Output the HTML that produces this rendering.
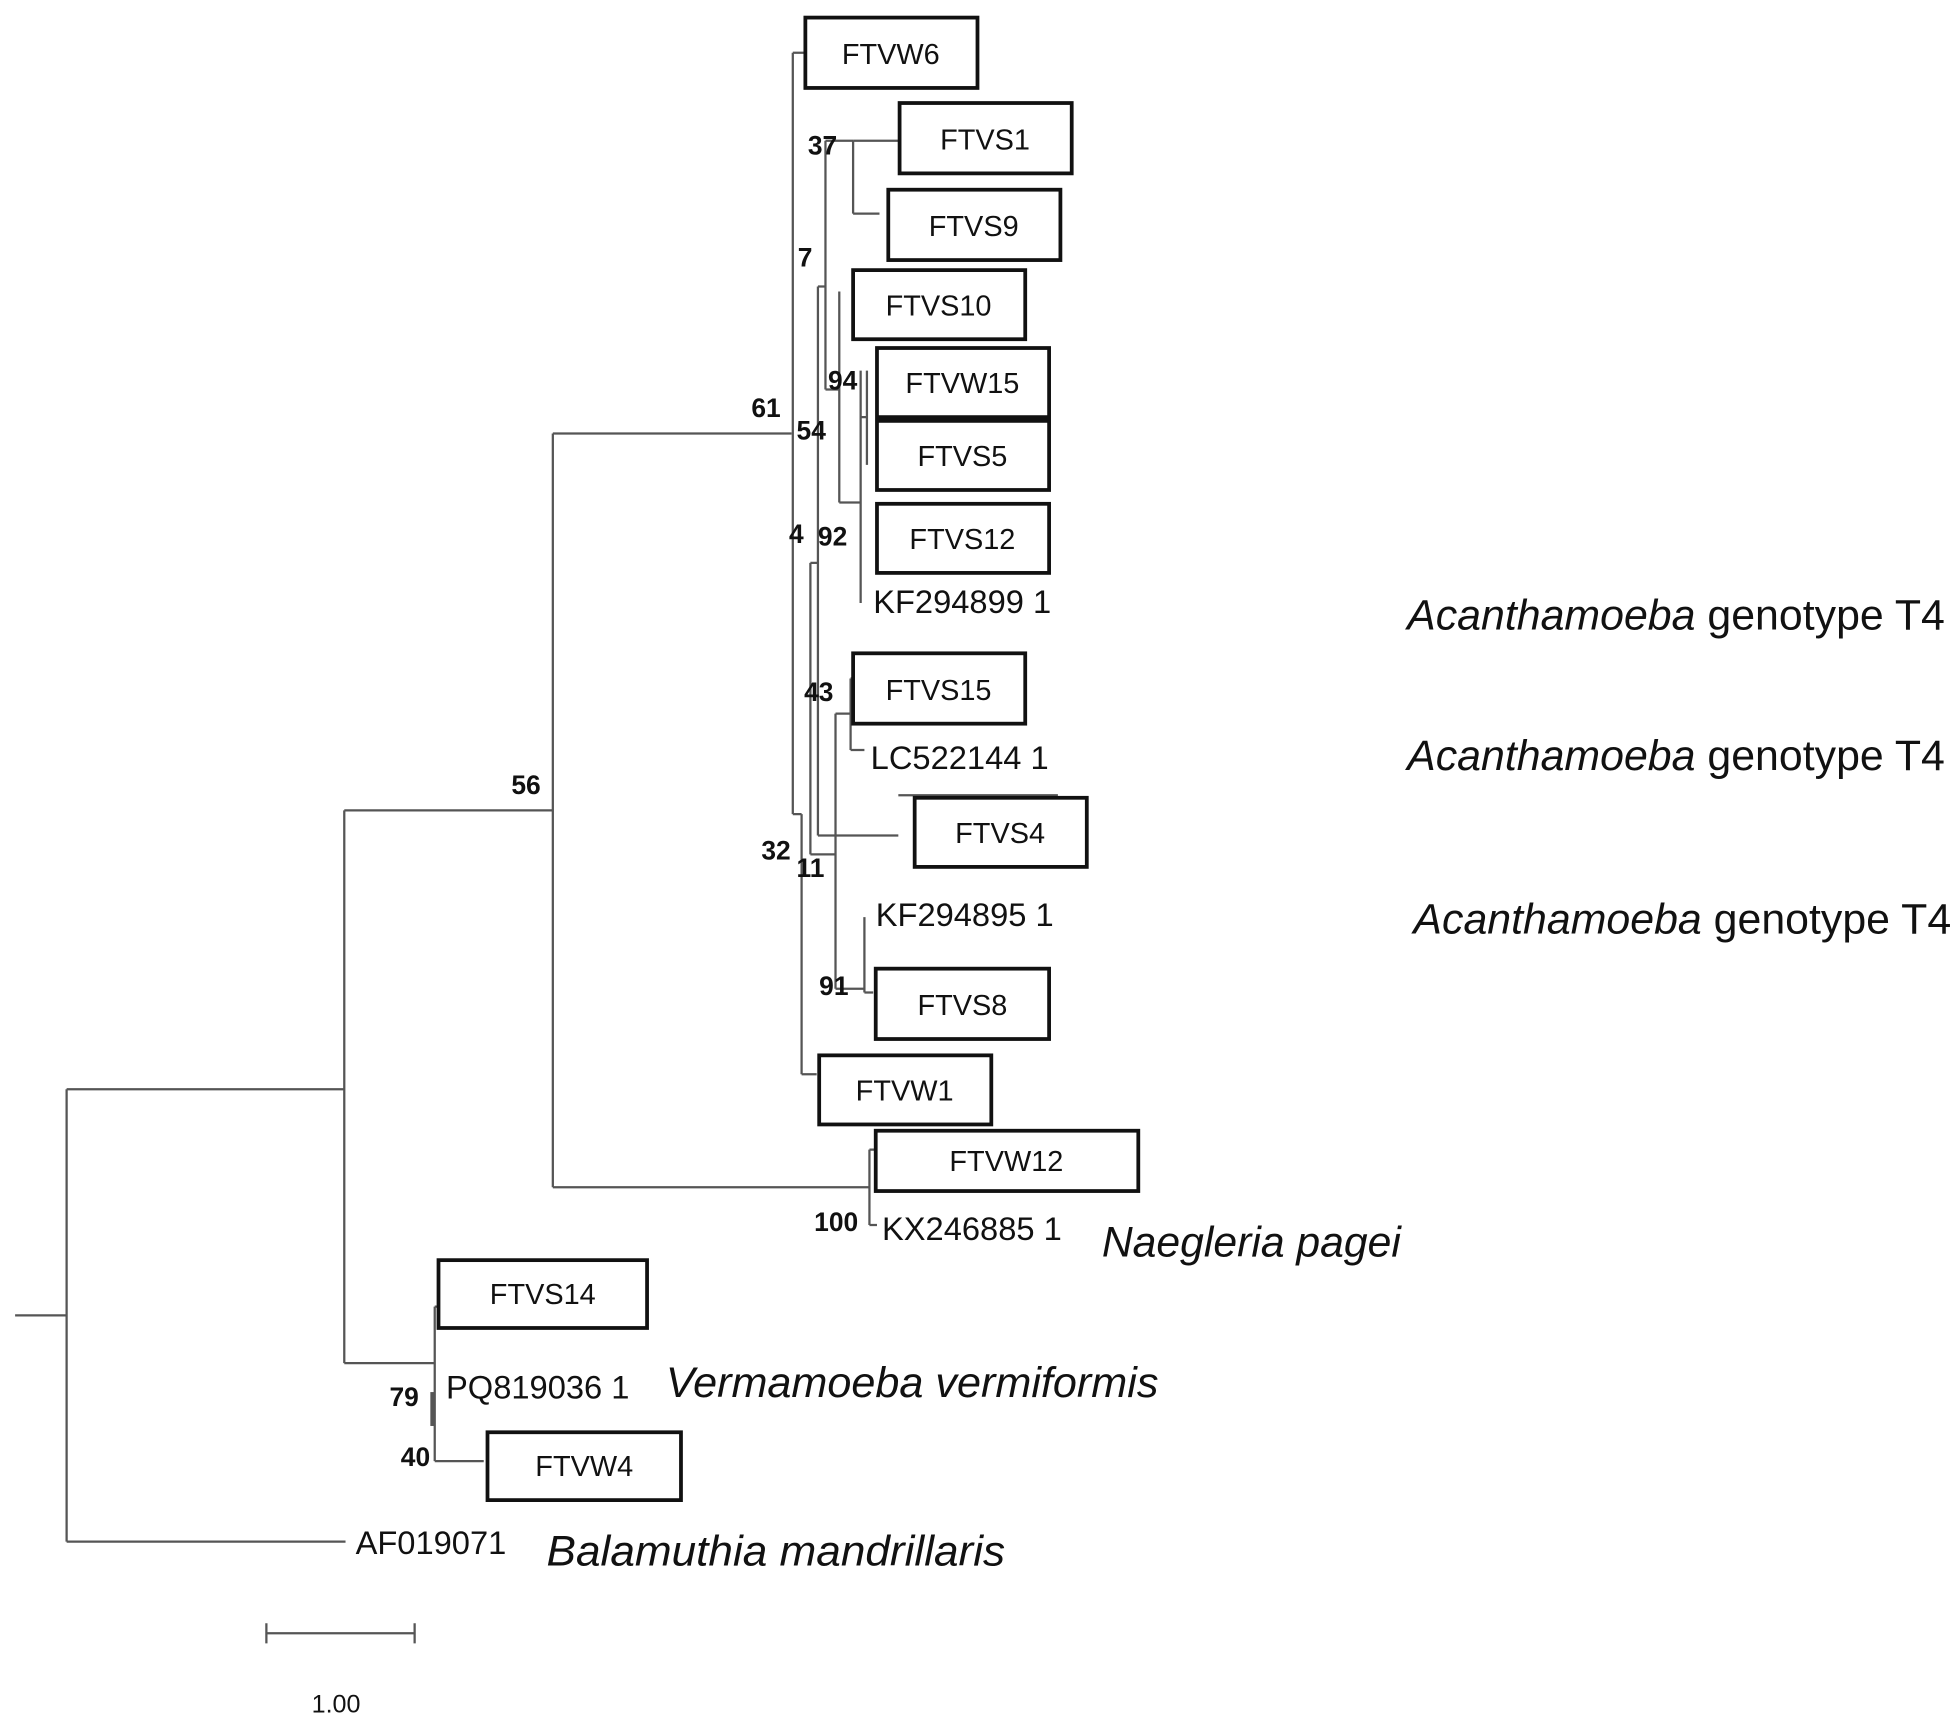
<!DOCTYPE html>
<html><head><meta charset="utf-8"><style>
html,body{margin:0;padding:0;background:#fff;}
svg{display:block;}
.b{font-family:"Liberation Sans",sans-serif;font-weight:bold;font-size:21px;fill:#111;}
.t{font-family:"Liberation Sans",sans-serif;font-size:26px;fill:#111;}
.bx{font-family:"Liberation Sans",sans-serif;font-size:23px;fill:#111;}
.i{font-family:"Liberation Sans",sans-serif;font-size:34px;fill:#111;}
.l{stroke:#555;stroke-width:1.8;fill:none;}
.r{stroke:#111;stroke-width:3;fill:#fff;}
</style></head><body>
<svg width="1960" height="1725" viewBox="0 0 1560 1373" xmlns="http://www.w3.org/2000/svg">
<g class="l">
<path d="M12 1047H53M53 867V1227M53 867H274M53 1227H275"/>
<path d="M274 645V1085M274 645H440M274 1085H346"/>
<path d="M346 1040V1163M346 1163H385M346 1040H349"/>
<path d="M344 1108V1135" style="stroke-width:3"/>
<path d="M440 345V945M440 345H630M440 945H692"/>
<path d="M692 915V975M692 915H697M692 975H698"/>
<path d="M631 42V648M631 42H641M631 648H638"/>
<path d="M638 648V855M638 855H650"/>
<path d="M645 448V680M645 680H665"/>
<path d="M651 228V665M651 228H657M651 665H715M645 448H651"/>
<path d="M657 112V310M657 112H679M657 310H668"/>
<path d="M679 112V170M679 112H715M679 170H700"/>
<path d="M668 232V400M668 400H685"/>
<path d="M685 295V480M690 295V370M685 332H690"/>
<path d="M665 568V787M665 568H677"/>
<path d="M677 540V597M677 597H688M677 540H679"/>
<path d="M665 787H688M688 730V790M688 790H695"/>
<path d="M715 633H842"/>
<path d="M212 1300H330M212 1292V1308M330 1292V1308"/>
</g>
<g class="r">
<rect x="641" y="14" width="137" height="56"/>
<rect x="716" y="82" width="137" height="56"/>
<rect x="707" y="151" width="137" height="56"/>
<rect x="679" y="215" width="137" height="55"/>
<rect x="698" y="277" width="137" height="55"/>
<rect x="698" y="335" width="137" height="55"/>
<rect x="698" y="401" width="137" height="55"/>
<rect x="679" y="520" width="137" height="56"/>
<rect x="728" y="635" width="137" height="55"/>
<rect x="697" y="771" width="138" height="56"/>
<rect x="652" y="840" width="137" height="55"/>
<rect x="697" y="900" width="209" height="48"/>
<rect x="349" y="1003" width="166" height="54"/>
<rect x="388" y="1140" width="154" height="54"/>
</g>
<g class="bx" text-anchor="middle">
<text x="709" y="51">FTVW6</text>
<text x="784" y="119">FTVS1</text>
<text x="775" y="188">FTVS9</text>
<text x="747" y="251">FTVS10</text>
<text x="766" y="313">FTVW15</text>
<text x="766" y="371">FTVS5</text>
<text x="766" y="437">FTVS12</text>
<text x="747" y="557">FTVS15</text>
<text x="796" y="671">FTVS4</text>
<text x="766" y="808">FTVS8</text>
<text x="720" y="876">FTVW1</text>
<text x="801" y="932">FTVW12</text>
<text x="432" y="1038">FTVS14</text>
<text x="465" y="1175">FTVW4</text>
</g>
<g class="t">
<text x="695" y="488">KF294899 1</text>
<text x="693" y="612">LC522144 1</text>
<text x="697" y="737">KF294895 1</text>
<text x="702" y="987">KX246885 1</text>
<text x="355" y="1113">PQ819036 1</text>
<text x="283" y="1237">AF019071</text>
</g>
<g class="b">
<text x="643" y="123">37</text><text x="635" y="212">7</text><text x="659" y="310">94</text>
<text x="598" y="332">61</text><text x="634" y="350">54</text><text x="628" y="432">4</text>
<text x="651" y="434">92</text><text x="640" y="558">43</text><text x="606" y="684">32</text>
<text x="634" y="698">11</text><text x="652" y="792">91</text><text x="407" y="632">56</text>
<text x="648" y="980">100</text><text x="310" y="1119">79</text><text x="319" y="1167">40</text>
</g>
<g class="i">
<text x="1120" y="501" textLength="428" lengthAdjust="spacingAndGlyphs"><tspan font-style="italic">Acanthamoeba</tspan> genotype T4</text>
<text x="1120" y="613" textLength="428" lengthAdjust="spacingAndGlyphs"><tspan font-style="italic">Acanthamoeba</tspan> genotype T4</text>
<text x="1125" y="743" textLength="428" lengthAdjust="spacingAndGlyphs"><tspan font-style="italic">Acanthamoeba</tspan> genotype T4</text>
<text x="877" y="1000" font-style="italic" textLength="238" lengthAdjust="spacingAndGlyphs">Naegleria pagei</text>
<text x="530" y="1112" font-style="italic" textLength="392" lengthAdjust="spacingAndGlyphs">Vermamoeba vermiformis</text>
<text x="435" y="1246" font-style="italic" textLength="365" lengthAdjust="spacingAndGlyphs">Balamuthia mandrillaris</text>
</g>
<text x="248" y="1363" style="font-family:'Liberation Sans',sans-serif;font-size:20px;fill:#111">1.00</text>
</svg>
</body></html>
